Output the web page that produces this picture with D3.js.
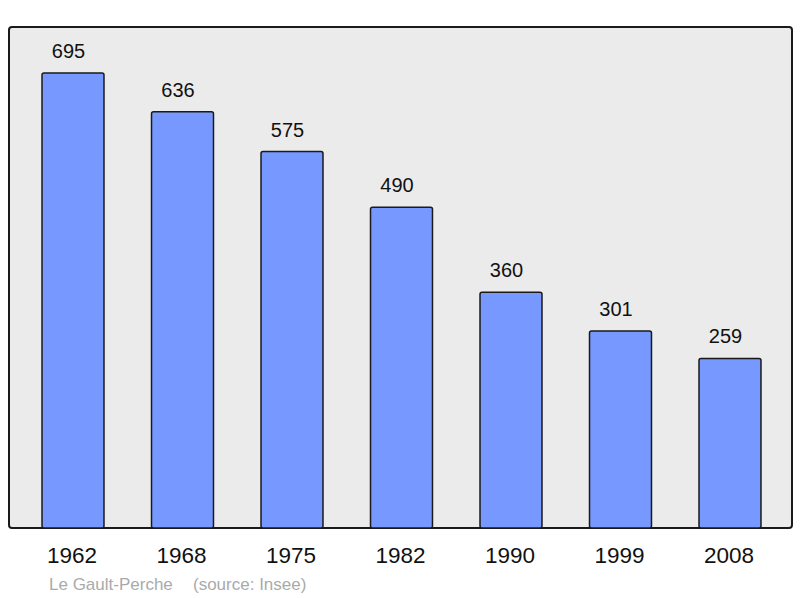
<!DOCTYPE html>
<html>
<head>
<meta charset="utf-8">
<script src="https://cdn.jsdelivr.net/npm/d3@7"></script>
<style>
  body { margin: 0; background: #fff; }
  text { font-family: "Liberation Sans", Arial, sans-serif; }
</style>
</head>
<body>
<svg id="chart" width="800" height="598"></svg>
<script>
// donnees population
var years = ["1962", "1968", "1975", "1982", "1990", "1999", "2008"];
var population = [695, 636, 575, 490, 360, 301, 259];
var commune = "Le Gault-Perche";
var source = "(source: Insee)";

var svg = d3.select("#chart");

// cadre gris
svg.append("rect")
  .attr("x", 9).attr("y", 27)
  .attr("width", 783).attr("height", 501)
  .attr("rx", 3)
  .attr("fill", "#ebebeb")
  .attr("stroke", "#1a1a1a")
  .attr("stroke-width", 2);

var x = d3.scaleBand()
  .domain(years)
  .range([18.25, 784.75])
  .paddingInner(0.434)
  .paddingOuter(0.217);

var y = d3.scaleLinear()
  .domain([0, 695])
  .range([528, 73]);

var data = years.map(function (d, i) { return { year: d, value: population[i] }; });

svg.selectAll("rect.bar")
  .data(data)
  .enter()
  .append("rect")
  .attr("class", "bar")
  .attr("x", function (d) { return x(d.year); })
  .attr("y", function (d) { return y(d.value); })
  .attr("width", x.bandwidth())
  .attr("height", function (d) { return y(0) - y(d.value); })
  .attr("rx", 2)
  .attr("fill", "#7799ff")
  .attr("stroke", "#1a1a1a")
  .attr("stroke-width", 1.5);

// valeurs au dessus des barres (un peu decalees a gauche comme l'original)
svg.selectAll("text.val")
  .data(data)
  .enter()
  .append("text")
  .attr("class", "val")
  .attr("x", function (d) { return x(d.year) + x.bandwidth() / 2 - 4.5; })
  .attr("y", function (d) { return y(d.value) - 15; })
  .attr("text-anchor", "middle")
  .attr("font-size", 20)
  .attr("fill", "#111")
  .text(function (d) { return d.value; });

// axe des annees
var axis = d3.axisBottom(x).tickSize(0).tickPadding(0);
var g = svg.append("g")
  .attr("transform", "translate(-1,546)")
  .call(axis);
g.select(".domain").remove();
g.selectAll("text")
  .attr("font-size", 22.5)
  .attr("fill", "#111")
  .attr("dy", "0.76em");

// pied
svg.append("text")
  .attr("x", 49).attr("y", 590)
  .attr("font-size", 17)
  .attr("fill", "#aaaaaa")
  .text(commune);
svg.append("text")
  .attr("x", 193).attr("y", 590)
  .attr("font-size", 17)
  .attr("fill", "#aaaaaa")
  .text(source);
</script>
</body>
</html>
